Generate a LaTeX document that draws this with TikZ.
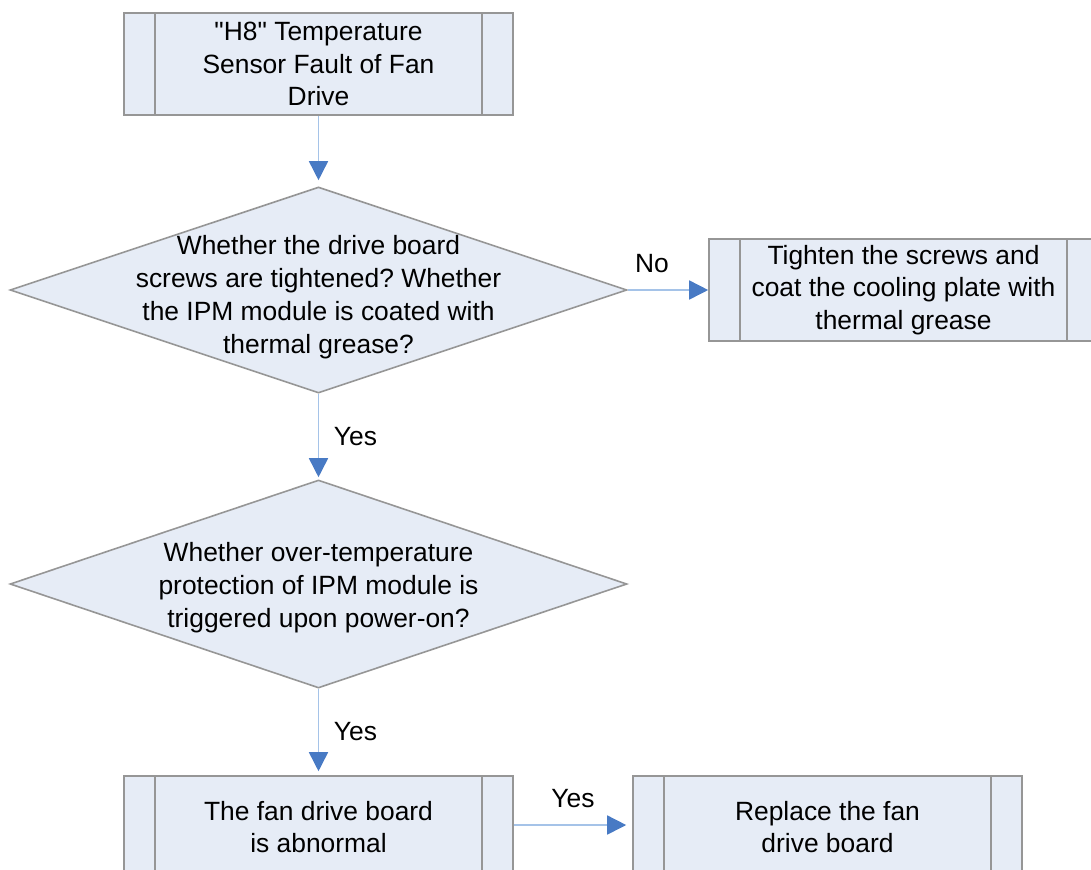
\documentclass[tikz,border=0pt]{standalone}
\usepackage{fontspec}
\setmainfont{Liberation Sans}[Ligatures=TeXOff]
\usetikzlibrary{shapes.geometric,arrows.meta}
\definecolor{boxfill}{RGB}{230,236,246}
\definecolor{boxline}{RGB}{150,150,150}
\definecolor{flowline}{RGB}{165,195,232}
\definecolor{flowhead}{RGB}{72,122,196}
\frenchspacing
\tikzset{
  procbox/.style={draw=boxline, fill=boxfill, line width=0.8pt,
    minimum width=194.5pt, minimum height=51pt, inner sep=0pt, align=center,
    font=\fontsize{13.2}{16.3}\selectfont,
    path picture={\draw[boxline, line width=0.8pt]
      ([xshift=15.5pt]path picture bounding box.north west) -- ([xshift=15.5pt]path picture bounding box.south west)
      ([xshift=-15.5pt]path picture bounding box.north east) -- ([xshift=-15.5pt]path picture bounding box.south east);}},
  decision/.style={diamond, draw=boxline, fill=boxfill, line width=0.8pt, inner sep=0pt},
  qtext/.style={align=center, font=\fontsize{13.2}{16.5}\selectfont},
  flow/.style={draw=flowline, line width=0.8pt, -{Triangle[length=9.5pt,width=9.5pt,flowhead]}},
  tag/.style={font=\fontsize{13.2}{15}\selectfont}
}
\begin{document}
\begin{tikzpicture}[x=0.5pt,y=-0.5pt]
    \path[use as bounding box, clip] (0,0) rectangle (1091,869);

    % boxes and checks
    \node[procbox] (start) at (318.5,64) {"H8" Temperature\\Sensor Fault of Fan\\Drive};
    \node[decision, minimum width=308.5pt, minimum height=103pt,
          label={[qtext, yshift=-3.5pt]center:Whether the drive board\\screws are tightened? Whether\\the IPM module is coated with\\thermal grease?}] (screws) at (318.5,290) {};
    \node[procbox] (tighten) at (903.5,290) {Tighten the screws and\\coat the cooling plate with\\thermal grease};
    \node[decision, minimum width=308.5pt, minimum height=104pt,
          label={[qtext, yshift=-2pt]center:Whether over-temperature\\protection of IPM module is\\triggered upon power-on?}] (overtemp) at (318.5,584) {};
    \node[procbox] (abnormal) at (318.5,827) {The fan drive board\\is abnormal};
    \node[procbox] (replace) at (827.5,827) {Replace the fan\\drive board};

    % connectors
    \draw[flow, shorten >=3pt] (start) -- (screws.north);
    \draw[flow] (screws.east) -- node[tag, pos=0.3, above=5pt] {No} (tighten.west);
    \draw[flow, shorten >=1pt] (screws.south) -- node[tag, right=4pt] {Yes} (overtemp.north);
    \draw[flow, shorten >=2pt] (overtemp.south) -- node[tag, right=4pt] {Yes} (abnormal.north);
    \draw[flow, shorten >=3pt] ([yshift=1pt]abnormal.east) -- node[tag, above=5pt] {Yes} ([yshift=1pt]replace.west);
\end{tikzpicture}
\end{document}
